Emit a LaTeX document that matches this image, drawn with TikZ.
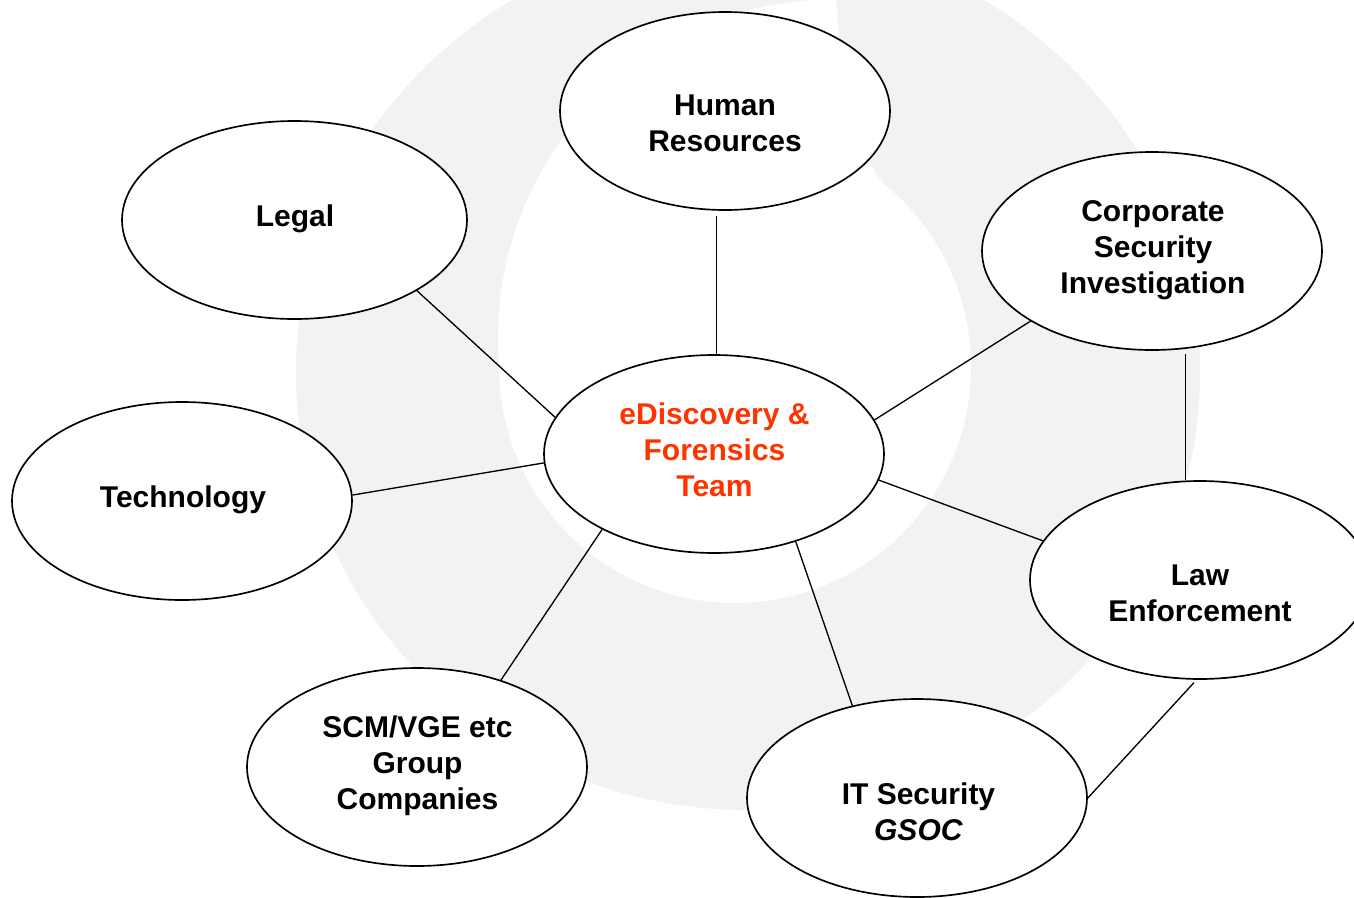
\documentclass[tikz,border=0pt]{standalone}
\usepackage{fontspec}
\setmainfont{Liberation Sans}
\usetikzlibrary{shapes.geometric}

\definecolor{ringgray}{RGB}{242,242,242}
\definecolor{teamred}{RGB}{255,51,0}

\tikzset{every picture/.style={line width=0.75pt}}
\tikzset{
  blob/.style={draw, ellipse, fill=white, line width=1.25pt, inner sep=0pt,
    minimum width=255pt, minimum height=148.5pt},
  lbl/.style={font=\bfseries\fontsize{22.5}{27}\selectfont, align=center, inner sep=0pt},
  link/.style={draw, line width=1pt}
}

\begin{document}
\begin{tikzpicture}[x=0.75pt,y=0.75pt,yscale=-1,xscale=1]
\useasboundingbox (0,0) rectangle (1354,897);

%Shape: watermark ring
\fill [white] (0,0) rectangle (1354,897);
\fill [ringgray] (748,373) ellipse (452 and 437);
%Shape: inner quote mark
\fill [white] (499.3,366.5) arc [start angle=175, end angle=270, radius=338]
   .. controls (840,60) and (856,160) .. (886.7,186.2)
   arc [start angle=-50, end angle=180, radius=236] -- cycle;

%Shape: Ellipses
\node [blob, minimum width=247.5pt] (hr) at (725,111) {};
\node [blob, minimum width=258.75pt] (legal) at (294.5,220) {};
\node [blob] (csi) at (1152,251) {};
\node [blob] (tech) at (182,501) {};
\node [blob] (team) at (714,454) {};
\node [blob] (law) at (1200,580) {};
\node [blob] (itsec) at (917,798) {};
\node [blob] (scm) at (417,767) {};

%Straight Lines
\draw [link] (legal.-30) -- (team.167);
\draw [link, shorten <=3.75pt] (hr.-95) -- (hr.-95 |- team.north);
\draw [link] (csi.210.7) -- (team.12.8);
\draw [link] (tech.2) -- (team.183.7);
\draw [link] (scm.46) -- (team.214.7);
\draw [link] (itsec.125.5) -- (team.-47.7);
\draw [link] (law.166.5) -- (team.-9.5);
\draw [link, shorten <=4pt] (csi.-71) -- (csi.-71 |- law.north);
\draw [link, shorten <=3pt] (law.-92.8) -- (itsec.east);

% Text Node
\node [lbl] (hr-txt) at (725,123) {Human\\Resources};
% Text Node
\node [lbl] (legal-txt) at (295,219) {Legal};
% Text Node
\node [lbl] (csi-txt) at (1153,250) {Corporate\\Security\\Investigation};
% Text Node
\node [lbl] (tech-txt) at (183,500) {Technology};
% Text Node
\node [lbl, text=teamred] (team-txt) at (714.5,450) {eDiscovery \&\\Forensics\\Team};
% Text Node
\node [lbl] (law-txt) at (1200,593) {Law\\Enforcement};
% Text Node
\node [lbl] (itsec-txt) at (918.5,812) {IT Security\\\textit{GSOC}};
% Text Node
\node [lbl] (scm-txt) at (417.5,766) {SCM/VGE etc\\Group\\Companies};

\end{tikzpicture}
\end{document}
